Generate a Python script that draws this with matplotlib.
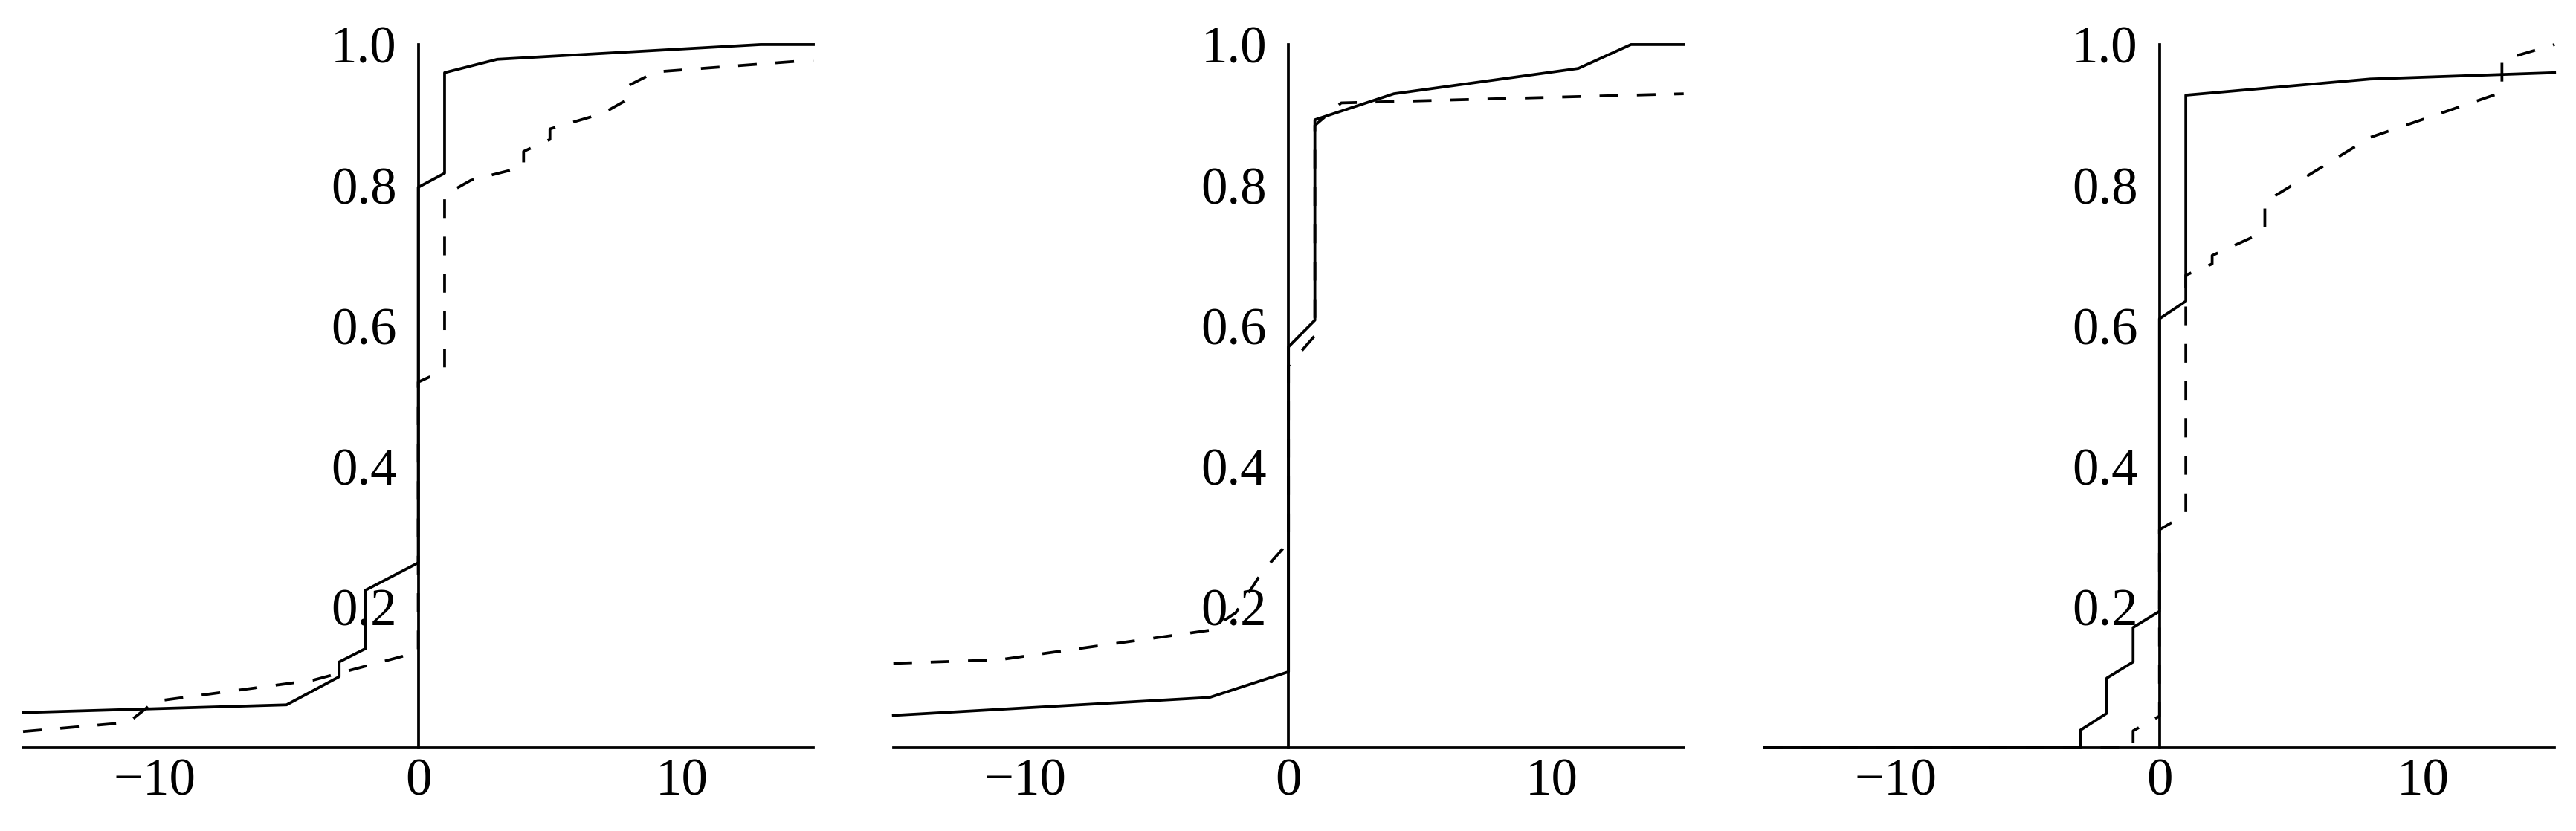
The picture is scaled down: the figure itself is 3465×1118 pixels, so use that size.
import matplotlib
matplotlib.use("Agg")
import matplotlib.pyplot as plt

plt.rcParams['font.family'] = ['Liberation Serif', 'DejaVu Serif']
plt.rcParams['font.size'] = 17

# panel 1
x1_solid = [-15, -5, -3, -3, -2, -2, 0, 0, 1, 1, 3, 13, 15]
y1_solid = [0.050, 0.061, 0.101, 0.122, 0.141, 0.224, 0.263, 0.797, 0.817, 0.960, 0.979, 1.0, 1.0]
x1_dash = [-15, -11, -10, -5, -4, 0, 0, 1, 1, 2, 4, 4, 5, 5, 7, 8, 8, 9, 15]
y1_dash = [0.023, 0.036, 0.066, 0.091, 0.096, 0.136, 0.520, 0.537, 0.786, 0.807, 0.826,
           0.848, 0.865, 0.880, 0.902, 0.923, 0.942, 0.961, 0.978]

# panel 2
x2_solid = [-15, -3, 0, 0, 1, 1, 4, 11, 13, 15]
y2_solid = [0.046, 0.0715, 0.108, 0.570, 0.608, 0.893, 0.930, 0.966, 1.0, 1.0]
x2_dash = [-15, -11, -3, -2, -1, 0, 0, 1, 1, 2, 15]
y2_dash = [0.120, 0.125, 0.167, 0.192, 0.250, 0.292, 0.543, 0.586, 0.885, 0.917, 0.930]

# panel 3
x3_solid = [-15, -3, -3, -2, -2, -1, -1, 0, 0, 1, 1, 8, 15]
y3_solid = [0.0, 0.0, 0.025, 0.049, 0.099, 0.122, 0.171, 0.194, 0.610, 0.635, 0.928, 0.951, 0.960]
x3_dash = [-15, -1, -1, 0, 0, 1, 1, 2, 2, 4, 4, 8, 13, 13, 15]
y3_dash = [0.0, 0.0, 0.024, 0.045, 0.310, 0.332, 0.672, 0.688, 0.700, 0.734, 0.776,
           0.868, 0.932, 0.978, 1.0]

panels = [
    (x1_solid, y1_solid, x1_dash, y1_dash),
    (x2_solid, y2_solid, x2_dash, y2_dash),
    (x3_solid, y3_solid, x3_dash, y3_dash),
]

xticks = [-10, 0, 10]
yticks = [0.2, 0.4, 0.6, 0.8, 1.0]

fig = plt.figure(figsize=(3465 / 300, 1118 / 300), dpi=300)
lefts = [0.00895, 0.3468, 0.6849]
lw = 0.9

for left, (xs, ys, xd, yd) in zip(lefts, panels):
    ax = fig.add_axes([left, 0.1002, 0.3068, 0.8462])
    ax.plot(xs, ys, color='black', lw=lw, clip_on=False)
    ax.plot(xd, yd, color='black', lw=lw, ls=(0, (6.7, 6.7)), clip_on=False)
    ax.set_xlim(-15, 15)
    ax.set_ylim(0, 1)
    ax.spines['left'].set_position(('data', 0))
    ax.spines['top'].set_visible(False)
    ax.spines['right'].set_visible(False)
    for s in ('left', 'bottom'):
        ax.spines[s].set_linewidth(lw)
    ax.set_xticks(xticks)
    ax.set_yticks(yticks)
    ax.set_yticklabels([f'{v:.1f}' for v in yticks])
    ax.tick_params(axis='x', length=0, pad=3.2)
    ax.tick_params(axis='y', length=0, pad=7.0)
    ax.patch.set_visible(False)

fig.savefig('out.png', dpi=300)
